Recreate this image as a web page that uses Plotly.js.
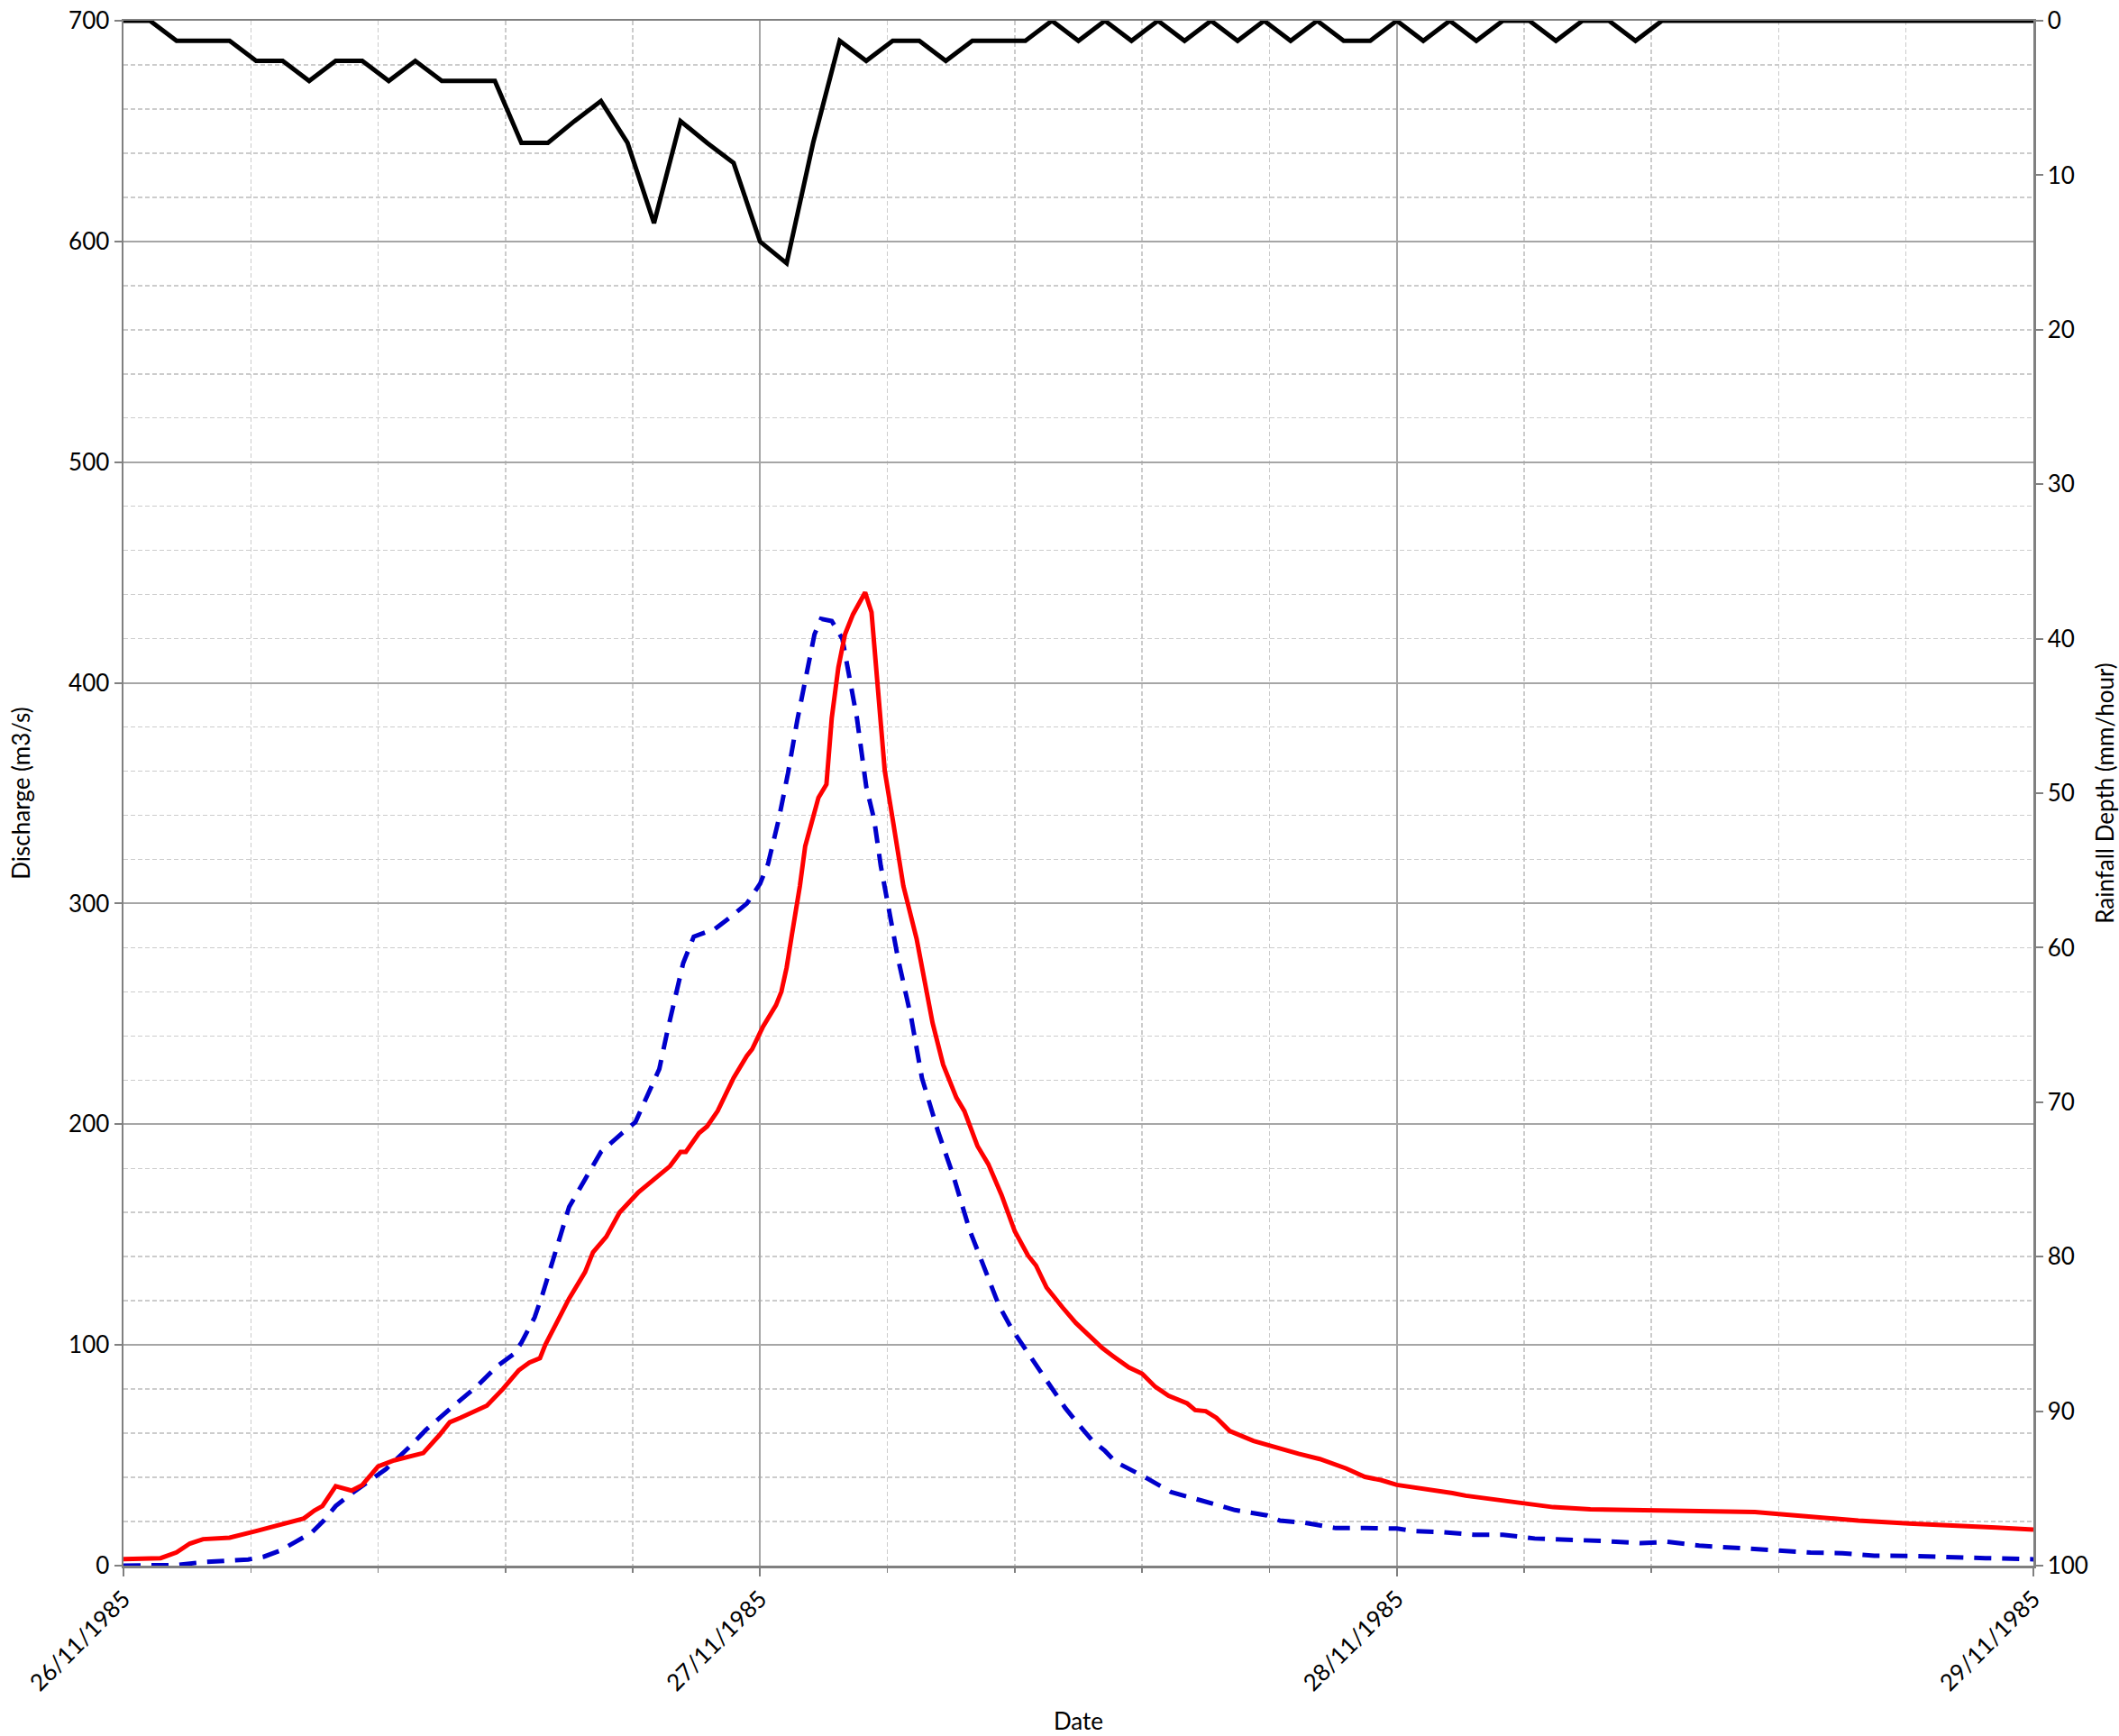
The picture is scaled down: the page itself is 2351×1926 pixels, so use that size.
<!DOCTYPE html>
<html>
<head>
<meta charset="utf-8">
<script src="https://cdn.plot.ly/plotly-3.0.1.min.js"></script>
<style>
  html, body { margin: 0; padding: 0; background: #ffffff; }
  #chart { width: 2351px; height: 1926px; }
</style>
</head>
<body>
<div id="chart"></div>
<script>
// ---- Data (hours since 26/11/1985 00:00) ----
const startDate = Date.UTC(1985, 10, 26, 0, 0, 0);

// Hourly rainfall depth (mm/hour), plotted on the reversed right axis
const rainHours = [0,1,2,3,4,5,6,7,8,9,10,11,12,13,14,15,16,17,18,19,20,21,22,23,24,
  25,26,27,28,29,30,31,32,33,34,35,36,37,38,39,40,41,42,43,44,45,46,47,48,
  49,50,51,52,53,54,55,56,57,58,59,60,61,62,63,64,65,66,67,68,69,70,71,72];
const rainDepth = [0,0,1.3,1.3,1.3,2.6,2.6,3.9,2.6,2.6,3.9,2.6,3.9,3.9,3.9,7.9,7.9,6.5,5.2,7.9,13.1,6.5,7.9,9.2,14.3,
  15.7,7.9,1.3,2.6,1.3,1.3,2.6,1.3,1.3,1.3,0,1.3,0,1.3,0,1.3,0,1.3,0,1.3,0,1.3,1.3,0,
  1.3,0,1.3,0,0,1.3,0,0,1.3,0,0,0,0,0,0,0,0,0,0,0,0,0,0,0];

// Observed discharge (m3/s) - red solid line
const obsHours = [0,1,1.4,2,2.5,3,4,5,6,6.8,7.2,7.5,8,8.6,9,9.6,10.2,11.3,11.9,12.3,12.7,13.7,14.3,14.9,15.3,15.7,15.9,
  16.3,16.8,17.4,17.7,18.2,18.7,19.4,19.9,20.6,21,21.2,21.7,22,22.4,23,23.5,23.7,24.1,24.6,24.8,25,25.2,25.5,25.7,
  26.2,26.5,26.7,26.95,27.2,27.5,27.96,28.2,28.5,28.7,29,29.4,29.9,30.2,30.5,30.9,31.4,31.7,32.2,32.6,33.1,33.6,
  34.1,34.4,34.8,35.4,35.9,36.3,36.9,37.3,37.9,38.4,38.9,39.4,40.1,40.4,40.8,41.2,41.7,42.6,43.4,44.3,45.1,46.1,
  46.8,47.4,48,49,50.1,50.6,51.5,52.8,53.9,55.3,57.4,58.6,59.9,61.5,62.4,63.6,65.4,67.3,68.9,70.6,72];
const obsFlow = [3,3,3.4,6,10,12,12.7,15.7,19,21.4,25,27,36,34,36.5,45,47.7,51,59,65,67,72.5,80,88.5,92,94,100,
  109,121,133,142,149,160,169,174,181,187.5,187.5,196,199,206,221,231,234,244,254,260,271,286,308,326,
  348,354,384,407,422,431,441,432,392,360,338,308,284,264,246,227,212,206,190,182,168,151.5,
  140.5,136,126,117,110,105.4,98.6,95,89.8,87,81,77,73.5,70.5,70,67,61,56.5,53.7,50.7,48.3,44,
  40.2,38.8,36.6,35,32.9,31.7,30.3,28,26.5,25.5,25.2,25.2,24.8,24.3,23.4,22.1,20.4,19.1,18.4,17.3,16.3];

// Simulated discharge (m3/s) - blue dashed line
const simHours = [0,1,2,3,4,4.7,5.3,5.9,6.5,7.1,7.55,8,8.6,9.4,9.9,10.8,11.4,12.4,13.3,14.1,14.7,15,15.5,15.8,16.1,
  16.5,16.8,17.4,18,18.8,19.3,19.6,20.2,20.5,20.8,21.1,21.5,22.3,22.9,23.5,24,24.3,24.7,25.05,25.4,25.7,26.05,
  26.3,26.7,27.1,27.4,27.65,28,28.3,28.55,28.9,29.2,29.7,30.1,30.7,31.3,31.9,32.6,33,33.5,34,34.5,35,35.5,36,
  36.5,37,37.4,38.4,39.5,40.7,41.9,43.1,43.6,44.5,45.7,46.8,48,48.7,49.7,50.9,52,53.2,54.6,55.7,57.2,58.2,
  59.4,61.1,62.3,63.6,64.8,66,67.3,68.9,70.2,72];
const simFlow = [0,0,0.3,1.6,2.4,2.8,4.1,6.8,10.9,15,20.4,27,32.7,39.5,43.8,54,61.5,72,81,90.5,95.8,101,112.5,123,135,
  150,162.5,175,187.5,196,201,209,225,242,258,273,285,288.5,294,300,309,318,338,359,383,402,422,
  429,428,420,401,384,353,338,317,294,275,248,221,197,176,152,131,118,107,98,89,80,71.5,64,
  57,52,47,40.8,33.3,29.3,25.2,22.8,20.4,19.5,17,17,16.8,15.6,15.2,14,14,12.3,11.9,11.2,10.2,10.8,
  9.1,7.8,6.8,5.9,5.6,4.5,4.4,3.7,3.4,2.9];

// Gridline positions along time axis (hours): minor every 1/5 day
const minorGridHours = [4.8,9.6,14.4,19.2,28.8,33.6,38.4,43.2,52.8,57.6,62.4,67.2];

// Axis titles
const xTitle = 'Date';
const yTitle = 'Discharge (m3/s)';
const y2Title = 'Rainfall Depth (mm/hour)';

// ---- helpers ----
function toDate(h) {
  return new Date(startDate + Math.round(h * 3600000)).toISOString().replace('T', ' ').slice(0, 19);
}

const FONT = 'Lato, "Open Sans", sans-serif';
const FS = 26;
const AXIS_COLOR = '#808080';
const MAJOR_GRID = '#a6a6a6';
const MINOR_GRID = '#cccccc';

const traces = [
  {
    x: simHours.map(toDate), y: simFlow, type: 'scatter', mode: 'lines',
    name: 'Simulated', yaxis: 'y',
    line: { color: '#0000CC', width: 5, dash: '19px,12px' }
  },
  {
    x: obsHours.map(toDate), y: obsFlow, type: 'scatter', mode: 'lines',
    name: 'Observed', yaxis: 'y',
    line: { color: '#FF0000', width: 5 }
  },
  {
    x: rainHours.map(toDate), y: rainDepth, type: 'scatter', mode: 'lines',
    name: 'Rainfall', yaxis: 'y2',
    line: { color: '#000000', width: 5 }
  }
];

const layout = {
  width: 2351, height: 1926,
  margin: { l: 137, r: 95, t: 23, b: 189, pad: 0 },
  paper_bgcolor: '#ffffff', plot_bgcolor: '#ffffff',
  showlegend: false,
  font: { family: FONT, size: FS, color: '#000000' },
  xaxis: {
    type: 'date',
    range: [toDate(0), toDate(72)],
    tick0: toDate(0), dtick: 86400000,
    tickformat: '%d/%m/%Y', tickangle: -45,
    tickfont: { family: FONT, size: FS, color: '#000000' },
    ticks: 'outside', ticklen: 9, tickwidth: 2, tickcolor: AXIS_COLOR,
    showgrid: true, gridcolor: MAJOR_GRID, gridwidth: 2,
    minor: {
      tickmode: 'array', tickvals: minorGridHours.map(toDate),
      showgrid: true, gridcolor: MINOR_GRID, gridwidth: 1.5, griddash: '5px,3px',
      ticks: 'outside', ticklen: 5, tickwidth: 1.5, tickcolor: AXIS_COLOR
    },
    showline: true, linecolor: AXIS_COLOR, linewidth: 2.5, mirror: true,
    zeroline: false,
    title: { text: xTitle, font: { family: FONT, size: FS, color: '#000000' }, standoff: 20 },
    automargin: false, fixedrange: true
  },
  yaxis: {
    range: [0, 700], tick0: 0, dtick: 100,
    tickfont: { family: FONT, size: FS, color: '#000000' },
    ticks: 'outside', ticklen: 8, tickwidth: 2, tickcolor: AXIS_COLOR,
    showgrid: true, gridcolor: MAJOR_GRID, gridwidth: 2,
    minor: {
      tick0: 0, dtick: 20,
      showgrid: true, gridcolor: MINOR_GRID, gridwidth: 1.5, griddash: '5px,3px'
    },
    showline: true, linecolor: AXIS_COLOR, linewidth: 2.5,
    zeroline: false,
    title: { text: yTitle, font: { family: FONT, size: FS, color: '#000000' }, standoff: 35 },
    automargin: false, fixedrange: true
  },
  yaxis2: {
    overlaying: 'y', side: 'right',
    range: [100, 0], tick0: 0, dtick: 10,
    tickfont: { family: FONT, size: FS, color: '#000000' },
    ticks: 'outside', ticklen: 8, tickwidth: 2, tickcolor: AXIS_COLOR,
    showgrid: false, zeroline: false,
    showline: true, linecolor: AXIS_COLOR, linewidth: 2.5,
    title: { text: y2Title, font: { family: FONT, size: FS, color: '#000000' }, standoff: 36 },
    automargin: false, fixedrange: true
  }
};

Plotly.newPlot('chart', traces, layout, { staticPlot: true, displayModeBar: false });
</script>
</body>
</html>
